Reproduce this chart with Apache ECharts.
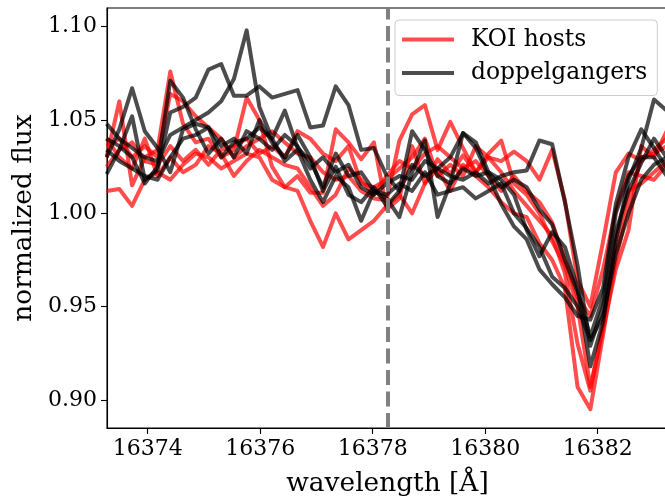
<!DOCTYPE html>
<html>
<head>
<meta charset="utf-8">
<script src="https://cdn.jsdelivr.net/npm/echarts@6/dist/echarts.min.js"></script>
<style>
  html, body { margin: 0; padding: 0; background: #fff; }
  #chart { width: 665px; height: 496px; }
</style>
</head>
<body>
<div id="chart"></div>
<script>
// Wavelength sampling grid (Å)
const wavelength = [
  16373.270, 16373.496, 16373.723, 16373.949, 16374.175, 16374.402, 16374.628, 16374.854,
  16375.080, 16375.307, 16375.533, 16375.759, 16375.986, 16376.212, 16376.438, 16376.665,
  16376.891, 16377.117, 16377.343, 16377.570, 16377.796, 16378.022, 16378.249, 16378.475,
  16378.701, 16378.928, 16379.154, 16379.380, 16379.606, 16379.833, 16380.059, 16380.285,
  16380.512, 16380.738, 16380.964, 16381.191, 16381.417, 16381.643, 16381.869, 16382.096,
  16382.322, 16382.548, 16382.775, 16383.001, 16383.227, 16383.454
];

// Normalized flux of the KOI host stars
const koi1 = [1.012,1.013,1.004,1.018,1.022,1.018,1.026,1.032,1.030,1.024,1.028,1.032,1.030,1.018,1.014,1.012,0.996,0.982,1.000,0.986,0.991,0.996,1.004,1.010,1.000,1.016,1.024,1.012,1.026,1.020,1.014,1.006,1.000,0.998,0.984,0.975,0.960,0.907,0.895,0.935,0.975,1.005,1.030,1.032,1.036,1.040];
const koi2 = [1.030,1.060,1.015,1.030,1.034,1.076,1.048,1.038,1.040,1.030,1.034,1.062,1.050,1.025,1.014,1.020,1.011,1.011,1.045,1.038,1.029,1.038,1.002,1.008,1.036,1.016,1.029,1.021,1.031,1.022,1.032,1.039,1.016,1.010,1.000,0.985,0.972,0.950,0.907,0.938,0.970,0.991,1.036,1.030,1.044,1.046];
const koi3 = [1.036,1.040,1.030,1.036,1.030,1.064,1.060,1.052,1.046,1.040,1.030,1.036,1.040,1.044,1.038,1.032,1.030,1.022,1.018,1.020,1.012,1.008,1.007,1.039,1.053,1.058,1.034,1.049,1.035,1.022,1.030,1.028,1.033,1.028,1.018,1.034,1.007,0.964,0.950,0.985,1.022,1.032,1.028,1.034,1.040,1.044];
const koi4 = [1.025,1.034,1.038,1.028,1.026,1.036,1.028,1.034,1.026,1.034,1.036,1.040,1.032,1.036,1.030,1.044,1.040,1.032,1.028,1.036,1.016,1.014,1.018,1.024,1.030,1.040,1.020,1.026,1.020,1.036,1.030,1.022,1.012,1.004,0.996,0.988,0.968,0.930,0.905,0.940,0.985,1.012,1.016,1.022,1.028,1.030];
const koi5 = [1.040,1.030,1.024,1.040,1.020,1.030,1.022,1.026,1.036,1.032,1.020,1.028,1.034,1.030,1.026,1.024,1.014,1.004,1.010,1.024,1.018,1.010,1.020,1.028,1.024,1.032,1.036,1.030,1.024,1.028,1.020,1.012,1.020,1.012,1.006,0.995,0.975,0.955,0.945,0.970,1.002,1.022,1.020,1.018,1.026,1.030];

// Normalized flux of the matched doppelganger stars
const dop1 = [1.021,1.034,1.052,1.018,1.023,1.054,1.057,1.062,1.077,1.080,1.063,1.063,1.068,1.062,1.064,1.066,1.046,1.047,1.068,1.058,1.034,1.035,1.020,1.012,1.026,1.020,1.024,1.020,1.018,1.022,1.016,1.020,1.022,1.023,1.039,1.037,1.006,0.972,0.929,0.950,0.990,1.012,1.027,1.040,1.030,1.026];
const dop2 = [1.048,1.040,1.035,1.030,1.028,1.042,1.046,1.050,1.054,1.060,1.072,1.098,1.057,1.040,1.055,1.035,1.028,1.014,1.032,1.020,1.022,1.012,1.008,0.998,1.022,1.039,0.998,1.016,1.043,1.038,1.022,1.018,1.010,0.991,0.977,0.990,0.982,0.960,0.918,0.942,0.985,1.018,1.035,1.061,1.055,1.048];
const dop3 = [1.030,1.045,1.067,1.044,1.035,1.022,1.045,1.048,1.046,1.036,1.040,1.032,1.050,1.038,1.030,1.042,1.030,1.012,1.025,1.010,1.006,1.014,1.004,1.012,1.044,1.034,1.020,1.016,1.024,1.020,1.022,1.014,1.018,1.014,1.002,0.994,0.975,0.958,0.934,0.955,1.000,1.020,1.030,1.030,1.020,1.022];
const dop4 = [1.040,1.036,1.030,1.016,1.025,1.071,1.062,1.045,1.032,1.040,1.030,1.044,1.040,1.034,1.042,1.036,1.024,1.030,1.022,1.026,1.014,1.010,1.016,1.020,1.018,1.028,1.024,1.030,1.043,1.035,1.020,1.005,0.993,0.986,0.970,0.962,0.955,0.945,0.943,0.960,1.005,1.030,1.045,1.035,1.024,1.020];
const dop5 = [1.034,1.028,1.024,1.020,1.018,1.030,1.040,1.042,1.046,1.030,1.038,1.040,1.046,1.040,1.028,1.034,1.018,1.006,1.020,1.014,0.996,1.012,1.010,1.016,1.012,1.022,1.010,1.012,1.014,1.008,1.012,1.016,1.000,0.992,0.982,0.966,0.960,0.950,0.932,0.945,0.978,1.000,1.018,1.026,1.030,1.028];

const koiSpectra = [koi1, koi2, koi3, koi4, koi5];
const dopSpectra = [dop1, dop2, dop3, dop4, dop5];

// Axis ticks and the marked wavelength
const xTicks = [16374, 16376, 16378, 16380, 16382];
const yTicks = [0.90, 0.95, 1.00, 1.05, 1.10];
const markedWavelength = 16378.26;

const FONT = 'DejaVu Serif';

function spectrumSeries(name, flux, color, extra) {
  return Object.assign({
    name: name,
    type: 'line',
    symbol: 'none',
    data: flux.map((f, i) => [wavelength[i], f]),
    lineStyle: { color: color, width: 4, opacity: 0.7, join: 'round' },
    itemStyle: { color: color, opacity: 0.7 },
    emphasis: { disabled: true },
    silent: true
  }, extra || {});
}

const series = [];
koiSpectra.forEach(f => series.push(spectrumSeries('KOI hosts', f, '#ff0000')));
dopSpectra.forEach((f, j) => series.push(spectrumSeries('doppelgangers', f, '#000000',
  j === 0 ? {
    markLine: {
      silent: true,
      symbol: 'none',
      label: { show: false },
      lineStyle: { color: '#808080', width: 4, type: [15, 6.5], opacity: 1 },
      data: [{ xAxis: markedWavelength }]
    }
  } : {})));

const chart = echarts.init(document.getElementById('chart'), null, { renderer: 'canvas' });
chart.setOption({
  animation: false,
  backgroundColor: '#ffffff',
  textStyle: { fontFamily: FONT },
  grid: {
    left: 107, top: 8, width: 561, height: 420,
    outerBoundsMode: 'none',
    containLabel: false,
    show: true, borderColor: '#000', borderWidth: 1.1, backgroundColor: 'transparent'
  },
  legend: {
    data: [
      { name: 'KOI hosts', icon: 'rect', itemStyle: { color: '#ff0000', opacity: 0.7 } },
      { name: 'doppelgangers', icon: 'rect', itemStyle: { color: '#000000', opacity: 0.7 } }
    ],
    orient: 'vertical',
    left: 395, top: 20,
    padding: [8, 10, 11, 7],
    itemGap: 10.5,
    itemWidth: 52,
    itemHeight: 4,
    backgroundColor: 'rgba(255,255,255,0.8)',
    borderColor: '#cccccc',
    borderWidth: 1,
    borderRadius: 4,
    selectedMode: false,
    textStyle: { fontFamily: FONT, fontSize: 23.4, color: '#000', padding: [0, 0, 0, 12] }
  },
  xAxis: {
    type: 'value',
    min: 16373.277,
    max: 16383.25,
    name: 'wavelength [Å]',
    nameLocation: 'middle',
    nameGap: 43,
    nameTextStyle: { fontFamily: FONT, fontSize: 26.4, color: '#000' },
    axisLine: { show: true, onZero: false, lineStyle: { color: '#000', width: 1.1 } },
    axisTick: { show: true, length: 6, lineStyle: { color: '#000', width: 1.1 }, customValues: xTicks },
    axisLabel: { fontFamily: FONT, fontSize: 22, color: '#000', margin: 10, customValues: xTicks,
                 formatter: v => String(Math.round(v)) },
    splitLine: { show: false }
  },
  yAxis: {
    type: 'value',
    min: 0.885,
    max: 1.11,
    name: 'normalized flux',
    nameLocation: 'middle',
    nameGap: 66,
    nameRotate: 90,
    nameTextStyle: { fontFamily: FONT, fontSize: 26.4, color: '#000' },
    axisLine: { show: true, onZero: false, lineStyle: { color: '#000', width: 1.1 } },
    axisTick: { show: true, length: 6, lineStyle: { color: '#000', width: 1.1 }, customValues: yTicks },
    axisLabel: { fontFamily: FONT, fontSize: 22, color: '#000', margin: 10, customValues: yTicks,
                 formatter: v => v.toFixed(2) },
    splitLine: { show: false }
  },
  series: series
});
</script>
</body>
</html>
